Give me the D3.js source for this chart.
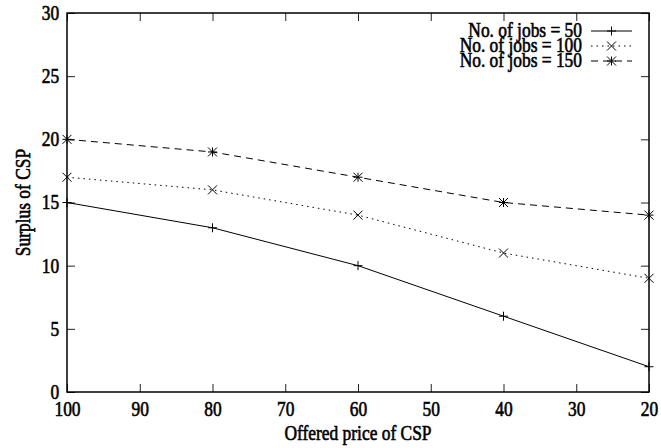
<!DOCTYPE html>
<html>
  <style>
    body {
      margin: 0;
      background: white;
    }
    text {
      font-family: "Liberation Serif", "Times New Roman", serif;
      font-size: 20px;
      fill: black;
      stroke: black;
      stroke-width: 0.6px;
    }
  </style>
  <body>
    <div id="chart"></div>
  </body>
  <script src="https://d3js.org/d3.v7.min.js"></script>
  <script>
    // Data
    var PRICES = [100, 80, 60, 40, 20];
    var JOBS_50 = [15, 13, 10, 6, 2];
    var JOBS_100 = [17, 16, 14, 11, 9];
    var JOBS_150 = [20, 19, 17, 15, 14];
    var SERIES_LABELS = ['No. of jobs = 50', 'No. of jobs = 100', 'No. of jobs = 150'];
    var X_TICKS = [100, 90, 80, 70, 60, 50, 40, 30, 20];
    var Y_TICKS = [0, 5, 10, 15, 20, 25, 30];

    var WIDTH = 661, HEIGHT = 448;
    var LEFT = 67, RIGHT = 649, TOP = 13, BOTTOM = 392;
    var TICK = 8;
    // the original font is a narrow Times, squeeze Liberation Serif to match
    var SQUEEZE = 'scale(0.87,1)';

    var x = d3.scaleLinear().domain([100, 20]).range([LEFT, RIGHT]);
    var y = d3.scaleLinear().domain([0, 30]).range([BOTTOM, TOP]);

    var svg = d3.select('#chart').append('svg')
      .attr('width', WIDTH)
      .attr('height', HEIGHT);

    // Ticks on all four sides, pointing inward
    svg.append('g')
      .attr('transform', 'translate(0,' + BOTTOM + ')')
      .call(d3.axisBottom(x).tickValues(X_TICKS).tickSizeInner(-TICK).tickSizeOuter(0).tickPadding(10))
      .call(function (g) { g.select('.domain').remove(); });
    svg.append('g')
      .attr('transform', 'translate(0,' + TOP + ')')
      .call(d3.axisTop(x).tickValues(X_TICKS).tickSizeInner(-TICK).tickSizeOuter(0).tickFormat(''))
      .call(function (g) { g.select('.domain').remove(); });
    svg.append('g')
      .attr('transform', 'translate(' + LEFT + ',0)')
      .call(d3.axisLeft(y).tickValues(Y_TICKS).tickSizeInner(-TICK).tickSizeOuter(0).tickPadding(9))
      .call(function (g) { g.select('.domain').remove(); });
    svg.append('g')
      .attr('transform', 'translate(' + RIGHT + ',0)')
      .call(d3.axisRight(y).tickValues(Y_TICKS).tickSizeInner(-TICK).tickSizeOuter(0).tickFormat(''))
      .call(function (g) { g.select('.domain').remove(); });

    svg.selectAll('.tick line').attr('stroke', '#222');
    svg.selectAll('.tick text')
      .attr('font-family', null)
      .attr('font-size', null)
      .attr('fill', 'black')
      .attr('transform', SQUEEZE);

    // Frame
    svg.append('rect')
      .attr('x', LEFT)
      .attr('y', TOP)
      .attr('width', RIGHT - LEFT)
      .attr('height', BOTTOM - TOP)
      .attr('fill', 'none')
      .attr('stroke', 'black')
      .attr('stroke-width', 1.5);

    // Axis labels
    svg.append('text')
      .attr('transform', 'translate(' + ((LEFT + RIGHT) / 2) + ',440) ' + SQUEEZE)
      .attr('text-anchor', 'middle')
      .text('Offered price of CSP');

    svg.append('text')
      .attr('transform', 'translate(30,' + ((TOP + BOTTOM) / 2) + ') rotate(-90) ' + SQUEEZE)
      .attr('text-anchor', 'middle')
      .text('Surplus of CSP');

    // Marker shapes (gnuplot style: plus, cross, star)
    function marker(g, type, cx, cy) {
      var s = 4.5;
      var p = '';
      if (type === 'plus' || type === 'star') {
        p += 'M' + (cx - s) + ',' + cy + 'H' + (cx + s) + 'M' + cx + ',' + (cy - s) + 'V' + (cy + s);
      }
      if (type === 'cross' || type === 'star') {
        p += 'M' + (cx - s) + ',' + (cy - s) + 'L' + (cx + s) + ',' + (cy + s) +
             'M' + (cx - s) + ',' + (cy + s) + 'L' + (cx + s) + ',' + (cy - s);
      }
      g.append('path').attr('d', p).attr('stroke', 'black').attr('stroke-width', 1).attr('fill', 'none');
    }

    var series = [
      { values: JOBS_50, dash: null, mark: 'plus' },
      { values: JOBS_100, dash: '1.5,4', mark: 'cross' },
      { values: JOBS_150, dash: '7,5', mark: 'star' }
    ];

    var line = d3.line()
      .x(function (d, i) { return x(PRICES[i]); })
      .y(function (d) { return y(d); });

    series.forEach(function (s, k) {
      var g = svg.append('g');
      g.append('path')
        .attr('d', line(s.values))
        .attr('fill', 'none')
        .attr('stroke', 'black')
        .attr('stroke-width', 1)
        .attr('stroke-dasharray', s.dash);
      s.values.forEach(function (v, i) {
        marker(g, s.mark, x(PRICES[i]), y(v));
      });

      // Legend entry
      var ly = 31 + k * 15;
      svg.append('text')
        .attr('transform', 'translate(582,' + (ly + 6) + ') ' + SQUEEZE)
        .attr('text-anchor', 'end')
        .text(SERIES_LABELS[k]);
      svg.append('line')
        .attr('x1', 591).attr('x2', 632)
        .attr('y1', ly).attr('y2', ly)
        .attr('stroke', 'black')
        .attr('stroke-width', 1)
        .attr('stroke-dasharray', s.dash);
      marker(svg, s.mark, 611.5, ly);
    });
  </script>
</html>
